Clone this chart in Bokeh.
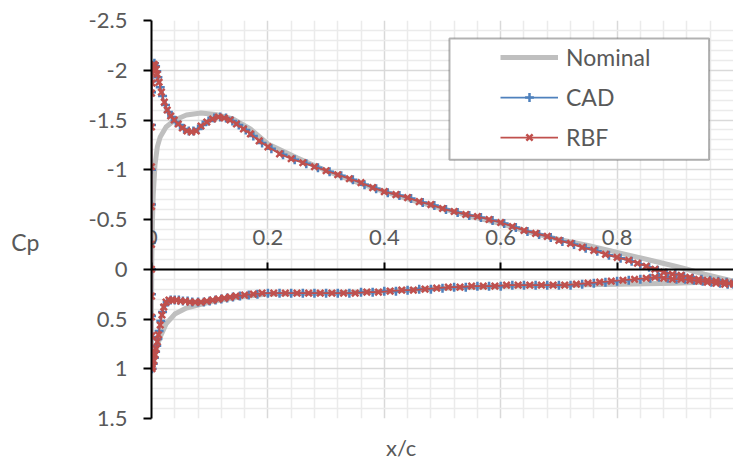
from bokeh.plotting import figure
from bokeh.models import (Range1d, LinearAxis, FixedTicker, Grid, Legend, LegendItem,
                          BoxAnnotation)
from bokeh.embed import file_html
from bokeh.resources import INLINE

# ---------------- data ----------------
nominal_x_upper = [1.0, 0.95, 0.92, 0.9, 0.85, 0.8, 0.75, 0.7, 0.65, 0.6, 0.55, 0.5, 0.45, 0.4, 0.35,
                   0.3, 0.25, 0.2, 0.17, 0.14, 0.11, 0.085, 0.06, 0.04, 0.025, 0.015, 0.01, 0.006,
                   0.003, 0.0015, 0.0005, 0.0]
nominal_cp_upper = [0.12, 0.05, 0.0, -0.03, -0.10, -0.17, -0.24, -0.30, -0.37, -0.46, -0.53, -0.61,
                    -0.69, -0.78, -0.88, -0.99, -1.12, -1.26, -1.41, -1.51, -1.555, -1.57, -1.55,
                    -1.50, -1.43, -1.33, -1.23, -1.05, -0.75, -0.45, -0.1, 0.4]
nominal_x_lower = [0.0, 0.001, 0.003, 0.008, 0.015, 0.025, 0.04, 0.06, 0.08, 0.1, 0.15, 0.2, 0.3,
                   0.4, 0.5, 0.6, 0.7, 0.8, 0.85, 0.9, 0.95, 1.0]
nominal_cp_lower = [0.85, 1.0, 0.95, 0.80, 0.68, 0.55, 0.45, 0.39, 0.36, 0.33, 0.28, 0.25, 0.24,
                    0.22, 0.19, 0.17, 0.16, 0.15, 0.145, 0.14, 0.13, 0.12]

rbf_x_upper = [1.0, 0.985, 0.97, 0.955, 0.94, 0.925, 0.91, 0.895, 0.88, 0.865, 0.85, 0.835, 0.82,
               0.80, 0.78, 0.76, 0.74, 0.72, 0.70, 0.68, 0.66, 0.64, 0.62, 0.60, 0.58, 0.56, 0.54,
               0.52, 0.50, 0.48, 0.46, 0.44, 0.42, 0.40, 0.38, 0.36, 0.34, 0.32, 0.30, 0.28, 0.26,
               0.24, 0.22, 0.20, 0.185, 0.17, 0.158, 0.146, 0.135, 0.125, 0.115, 0.105, 0.095,
               0.085, 0.077, 0.069, 0.061, 0.053, 0.046, 0.039, 0.033, 0.027, 0.022, 0.017, 0.013,
               0.010, 0.008, 0.006, 0.004, 0.003, 0.002, 0.001, 0.0]
rbf_cp_upper = [0.14, 0.13, 0.12, 0.11, 0.10, 0.08, 0.06, 0.05, 0.03, 0.00, -0.03, -0.06, -0.09,
                -0.12, -0.15, -0.19, -0.22, -0.26, -0.29, -0.33, -0.36, -0.39, -0.43, -0.47, -0.50,
                -0.53, -0.55, -0.58, -0.61, -0.65, -0.68, -0.72, -0.75, -0.78, -0.82, -0.87, -0.91,
                -0.95, -0.99, -1.03, -1.07, -1.11, -1.16, -1.23, -1.29, -1.36, -1.41, -1.46, -1.50,
                -1.52, -1.53, -1.51, -1.48, -1.44, -1.39, -1.38, -1.39, -1.42, -1.46, -1.50, -1.54,
                -1.60, -1.68, -1.78, -1.88, -1.96, -2.01, -2.05, -2.06, -2.03, -1.97, -1.87, -1.77]
rbf_x_le = [0.0, 0.0, 0.0, 0.0, 0.0, 0.0, 0.0, 0.0005, 0.001, 0.001]
rbf_cp_le = [-1.43, -1.03, -0.63, -0.25, 0.0, 0.27, 0.48, 0.67, 0.83, 1.0]
rbf_x_lower = [0.002, 0.004, 0.006, 0.008, 0.010, 0.012, 0.015, 0.018, 0.021, 0.025, 0.030, 0.036,
               0.043, 0.050, 0.058, 0.066, 0.075, 0.085, 0.095, 0.105, 0.115, 0.125, 0.135, 0.145,
               0.160, 0.175, 0.19, 0.21, 0.23, 0.25, 0.27, 0.29, 0.31, 0.33, 0.35, 0.37, 0.39, 0.41,
               0.43, 0.45, 0.47, 0.49, 0.51, 0.53, 0.55, 0.57, 0.59, 0.61, 0.63, 0.65, 0.67, 0.69,
               0.71, 0.73, 0.75, 0.77, 0.79, 0.81, 0.83, 0.85, 0.865, 0.88, 0.895, 0.91, 0.925,
               0.94, 0.955, 0.97, 0.985, 1.0]
rbf_cp_lower = [0.98, 0.92, 0.86, 0.80, 0.73, 0.66, 0.56, 0.46, 0.38, 0.33, 0.31, 0.31, 0.31, 0.32,
                0.32, 0.33, 0.33, 0.33, 0.32, 0.31, 0.30, 0.29, 0.28, 0.27, 0.26, 0.25, 0.24, 0.24,
                0.24, 0.24, 0.24, 0.24, 0.24, 0.24, 0.24, 0.23, 0.23, 0.22, 0.21, 0.21, 0.20, 0.19,
                0.18, 0.18, 0.17, 0.17, 0.17, 0.16, 0.16, 0.16, 0.16, 0.16, 0.16, 0.15, 0.14, 0.13,
                0.12, 0.11, 0.10, 0.09, 0.08, 0.09, 0.10, 0.10, 0.11, 0.12, 0.13, 0.14, 0.15, 0.15]

cad_x_upper = [1.0, 0.988, 0.974, 0.96, 0.945, 0.93, 0.915, 0.90, 0.885, 0.87, 0.855, 0.84, 0.825,
               0.806, 0.786, 0.766, 0.746, 0.726, 0.706, 0.686, 0.666, 0.646, 0.626, 0.606, 0.586,
               0.566, 0.546, 0.526, 0.506, 0.486, 0.466, 0.446, 0.426, 0.406, 0.386, 0.366, 0.346,
               0.326, 0.306, 0.286, 0.266, 0.246, 0.226, 0.206, 0.19, 0.175, 0.162, 0.15, 0.139,
               0.128, 0.118, 0.108, 0.098, 0.088, 0.08, 0.072, 0.064, 0.056, 0.049, 0.042, 0.035,
               0.029, 0.024, 0.019, 0.015, 0.011, 0.009, 0.007, 0.005, 0.0035, 0.0025, 0.0012, 0.0]
cad_cp_upper = [0.14, 0.13, 0.12, 0.11, 0.10, 0.09, 0.07, 0.05, 0.04, 0.01, -0.02, -0.05, -0.08,
                -0.11, -0.14, -0.18, -0.21, -0.25, -0.28, -0.32, -0.35, -0.38, -0.42, -0.46, -0.49,
                -0.52, -0.54, -0.57, -0.60, -0.64, -0.67, -0.71, -0.74, -0.77, -0.81, -0.85, -0.90,
                -0.94, -0.98, -1.02, -1.06, -1.10, -1.15, -1.21, -1.27, -1.34, -1.40, -1.45, -1.49,
                -1.52, -1.53, -1.52, -1.49, -1.45, -1.41, -1.39, -1.39, -1.41, -1.45, -1.48, -1.53,
                -1.58, -1.65, -1.74, -1.83, -1.93, -1.99, -2.04, -2.07, -2.05, -2.00, -1.89, -1.78]
cad_x_le = [0.0, 0.0, 0.0, 0.0, 0.0, 0.0, 0.0, 0.0005, 0.001, 0.001]
cad_cp_le = [-1.45, -1.00, -0.65, -0.27, 0.0, 0.25, 0.47, 0.68, 0.84, 1.0]
cad_x_lower = [0.003, 0.005, 0.007, 0.009, 0.011, 0.013, 0.016, 0.019, 0.023, 0.027, 0.033, 0.04,
               0.047, 0.054, 0.062, 0.07, 0.08, 0.09, 0.1, 0.11, 0.12, 0.13, 0.14, 0.152, 0.167,
               0.182, 0.2, 0.22, 0.24, 0.26, 0.28, 0.3, 0.32, 0.34, 0.36, 0.38, 0.4, 0.42, 0.44,
               0.46, 0.48, 0.5, 0.52, 0.54, 0.56, 0.58, 0.6, 0.62, 0.64, 0.66, 0.68, 0.7, 0.72,
               0.74, 0.76, 0.78, 0.8, 0.82, 0.84, 0.857, 0.872, 0.887, 0.902, 0.917, 0.932, 0.947,
               0.962, 0.977, 0.99, 1.0]
cad_cp_lower = [0.95, 0.89, 0.83, 0.77, 0.70, 0.62, 0.52, 0.43, 0.36, 0.33, 0.31, 0.31, 0.31, 0.32,
                0.32, 0.33, 0.33, 0.33, 0.32, 0.31, 0.30, 0.29, 0.28, 0.27, 0.26, 0.25, 0.24, 0.24,
                0.24, 0.24, 0.24, 0.24, 0.24, 0.24, 0.23, 0.23, 0.22, 0.22, 0.21, 0.20, 0.20, 0.19,
                0.18, 0.18, 0.17, 0.17, 0.17, 0.16, 0.16, 0.16, 0.16, 0.16, 0.16, 0.15, 0.14, 0.13,
                0.12, 0.11, 0.10, 0.09, 0.08, 0.09, 0.10, 0.10, 0.11, 0.12, 0.13, 0.14, 0.15, 0.15]

series_names = ["Nominal", "CAD", "RBF"]
x_title = "x/c"
y_title = "Cp"

x_ticks = [0, 0.2, 0.4, 0.6, 0.8]
x_tick_labels = ["0", "0.2", "0.4", "0.6", "0.8"]
x_grid_major = [0, 0.2, 0.4, 0.6, 0.8, 1.0]
x_grid_minor = [0.04, 0.08, 0.12, 0.16, 0.24, 0.28, 0.32, 0.36, 0.44, 0.48, 0.52, 0.56,
                0.64, 0.68, 0.72, 0.76, 0.84, 0.88, 0.92, 0.96]
y_ticks = [-2.5, -2.0, -1.5, -1.0, -0.5, 0.0, 0.5, 1.0, 1.5]
y_tick_labels = ["-2.5", "-2", "-1.5", "-1", "-0.5", "0", "0.5", "1", "1.5"]
y_grid_minor = [-2.4, -2.3, -2.2, -2.1, -1.9, -1.8, -1.7, -1.6, -1.4, -1.3, -1.2, -1.1,
                -0.9, -0.8, -0.7, -0.6, -0.4, -0.3, -0.2, -0.1, 0.1, 0.2, 0.3, 0.4,
                0.6, 0.7, 0.8, 0.9, 1.1, 1.2, 1.3, 1.4]

nominal_x = nominal_x_upper + nominal_x_lower
nominal_cp = nominal_cp_upper + nominal_cp_lower
cad_x = cad_x_upper + cad_x_le + cad_x_lower
cad_cp = cad_cp_upper + cad_cp_le + cad_cp_lower
rbf_x = rbf_x_upper + rbf_x_le + rbf_x_lower
rbf_cp = rbf_cp_upper + rbf_cp_le + rbf_cp_lower

# ---------------- styles ----------------
FONT = "Lato"
TXT = "#595959"
GRAY = "#bfbfbf"
BLUE = "#4f81bd"
RED = "#c0504d"

p = figure(width=733, height=463, x_range=Range1d(0, 1.0), y_range=Range1d(1.5, -2.5),
           output_backend="svg", toolbar_location=None,
           x_axis_location=None, y_axis_location=None,
           min_border_left=151, min_border_right=0, min_border_top=20, min_border_bottom=42,
           outline_line_color=None, background_fill_color="white", border_fill_color="white")
p.grid.visible = False

xgrid = Grid(dimension=0, ticker=FixedTicker(ticks=x_grid_major, minor_ticks=x_grid_minor),
             grid_line_color="#d9d9d9", grid_line_width=1.5,
             minor_grid_line_color="#ebebeb", minor_grid_line_width=1.5)
ygrid = Grid(dimension=1, ticker=FixedTicker(ticks=y_ticks, minor_ticks=y_grid_minor),
             grid_line_color="#d9d9d9", grid_line_width=1.5,
             minor_grid_line_color="#ebebeb", minor_grid_line_width=1.5)
p.add_layout(xgrid)
p.add_layout(ygrid)

r_nom = p.line(nominal_x, nominal_cp, line_color=GRAY, line_width=5, line_join="round")
r_cad_l = p.line(cad_x, cad_cp, line_color=BLUE, line_width=1.75)
r_cad_m = p.scatter(cad_x, cad_cp, marker="cross", size=9, line_color=BLUE, line_width=2.5)
r_rbf_l = p.line(rbf_x, rbf_cp, line_color=RED, line_width=1.75)
r_rbf_m = p.scatter(rbf_x, rbf_cp, marker="x", size=9, line_color=RED, line_width=2.5)

axis_style = dict(axis_line_color="black", axis_line_width=2, major_tick_in=0,
                  major_tick_line_color="black", major_tick_line_width=2,
                  minor_tick_out=0, minor_tick_in=0, major_label_text_font=FONT,
                  major_label_text_font_size="22px", major_label_text_color=TXT)

yaxis = LinearAxis(ticker=FixedTicker(ticks=y_ticks, minor_ticks=[]),
                   major_label_overrides=dict(zip(y_ticks, y_tick_labels)),
                   major_tick_out=8, major_label_standoff=16, **axis_style)
p.add_layout(yaxis, "left")

# horizontal "Cp" title, drawn as the only label of an outer, line-less axis
cp_pos = -0.27
cp_axis = LinearAxis(ticker=FixedTicker(ticks=[cp_pos], minor_ticks=[]),
                     major_label_overrides={cp_pos: y_title},
                     axis_line_color=None, major_tick_line_color=None, major_tick_out=0,
                     major_tick_in=0, minor_tick_out=0, minor_tick_in=0,
                     major_label_standoff=46, major_label_text_font=FONT,
                     major_label_text_font_size="23px", major_label_text_color=TXT)
p.add_layout(cp_axis, "left")

xaxis = LinearAxis(ticker=FixedTicker(ticks=x_ticks, minor_ticks=[]), fixed_location=0,
                   major_label_overrides=dict(zip(x_ticks, x_tick_labels)),
                   major_tick_out=7, major_label_standoff=17, **axis_style)
p.add_layout(xaxis, "above")

# "x/c" title under the plot area, drawn as the only label of a line-less axis
xc_pos = 0.429
xc_axis = LinearAxis(ticker=FixedTicker(ticks=[xc_pos], minor_ticks=[]),
                     major_label_overrides={xc_pos: x_title},
                     axis_line_color=None, major_tick_line_color=None, major_tick_out=0,
                     major_tick_in=0, minor_tick_out=0, minor_tick_in=0,
                     major_label_standoff=15, major_label_text_font=FONT,
                     major_label_text_font_size="22px", major_label_text_color=TXT)
p.add_layout(xc_axis, "below")

box = BoxAnnotation(left=0.512, right=0.958, top=-2.32, bottom=-1.10,
                    fill_color="white", fill_alpha=1.0, line_color="black", line_width=2)
p.add_layout(box)

legend = Legend(items=[LegendItem(label=series_names[0], renderers=[r_nom]),
                       LegendItem(label=series_names[1], renderers=[r_cad_l, r_cad_m]),
                       LegendItem(label=series_names[2], renderers=[r_rbf_l, r_rbf_m])],
                location=(349, 267), padding=0, margin=0, spacing=12,
                glyph_width=58, glyph_height=22, label_height=22, label_standoff=8,
                border_line_color=None, background_fill_alpha=0,
                label_text_font=FONT, label_text_font_size="23px", label_text_color=TXT)
p.add_layout(legend)

open("out.html", "w").write(file_html(p, INLINE))
